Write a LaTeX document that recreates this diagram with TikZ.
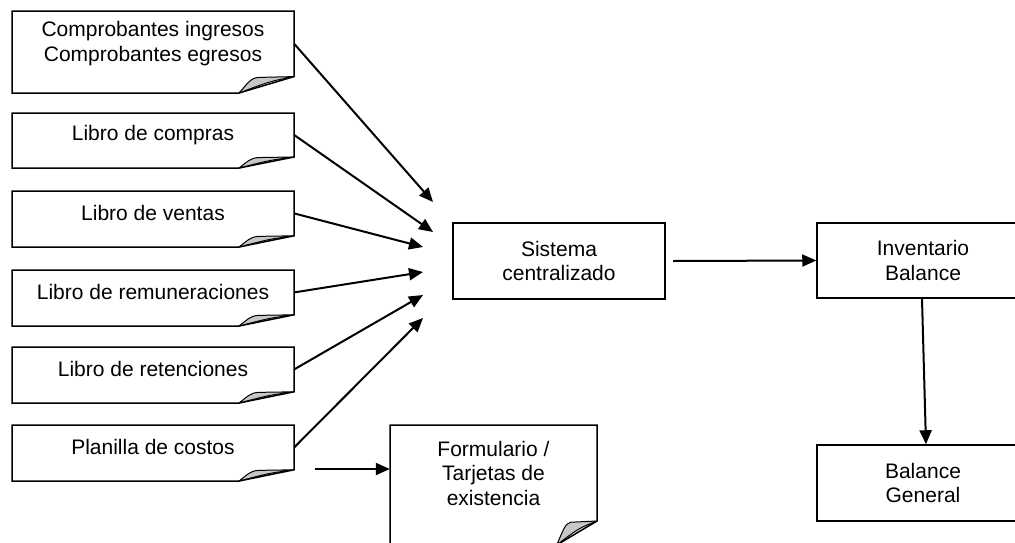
\documentclass[tikz,border=0pt]{standalone}
\usepackage{fontspec}
\setmainfont{Liberation Sans}
\usetikzlibrary{arrows.meta}
\tikzset{
  docline/.style={line width=1.5pt, line join=miter},
  foldstyle/.style={fill=black!22, draw=black, line width=1pt, line join=round},
  doctext/.style={inner sep=0pt, align=center, font=\fontsize{21}{24.5}\selectfont},
  boxnode/.style={draw, line width=1.5pt, inner sep=0pt, align=center,
    minimum width=212pt, minimum height=76pt, font=\fontsize{21}{24.5}\selectfont},
  conn/.style={line width=2pt, -{Triangle[length=14pt,width=12pt]}},
}
\newcommand{\fdoc}[6]{%
  \pgfmathsetmacro\fw{0.195*(#3-#1)}%
  \pgfmathsetmacro\fh{0.2*(#4-#2)}%
  \pgfmathsetmacro\dw{#3-#1}%
  \pgfmathsetmacro\dh{#4-#2-\fh}%
  \draw[docline] (#1,#2) -- (#3,#2) -- (#3,#4-\fh) -- (#3-\fw,#4) -- (#1,#4) -- cycle;
  \filldraw[foldstyle] (#3-\fw,#4) .. controls (#3-0.85*\fw,#4-0.55*\fh) and (#3-0.8*\fw,#4-0.9*\fh) .. (#3-0.65*\fw,#4-0.95*\fh) -- (#3,#4-\fh) .. controls (#3-0.45*\fw,#4-0.7*\fh) .. (#3-\fw,#4) -- cycle;
  \node[doctext, minimum width=\dw pt, minimum height=\dh pt] (#5) at ({(#1+#3)/2},{#2+\dh/2}) {#6};
}
\begin{document}
\begin{tikzpicture}[x=1pt,y=-1pt]
  \useasboundingbox (0,0) rectangle (1015,542);
  \fill[white] (0,0) rectangle (1015,542);

  \fdoc{12}{11}{294}{93}{d1}{Comprobantes ingresos\\Comprobantes egresos}
  \fdoc{12}{113}{294}{168}{d2}{Libro de compras}
  \fdoc{12}{191}{294}{247}{d3}{Libro de ventas}
  \fdoc{12}{270}{294}{326}{d4}{Libro de remuneraciones}
  \fdoc{12}{347}{294}{403}{d5}{Libro de retenciones}
  \fdoc{12}{425}{294}{481}{d6}{Planilla de costos}
  \fdoc{390}{425}{597}{545}{f}{Formulario /\\Tarjetas de\\existencia}

  \node[boxnode] (s) at (559,261) {Sistema\\centralizado};
  \node[boxnode, minimum height=75pt] (inv) at (923,260.5) {Inventario\\Balance};
  \node[boxnode] (bg) at (923,483) {Balance\\General};

  \coordinate (t1) at (433,202);
  \coordinate (t2) at (433,232);
  \coordinate (t3) at (423,247);
  \coordinate (t4) at (423,272);
  \coordinate (t5) at (423,295);
  \coordinate (t6) at (423,318);
  \draw[conn] (d1.east) -- (t1);
  \draw[conn] (d2.east) -- (t2);
  \draw[conn] (d3.east) -- (t3);
  \draw[conn] (d4.east) -- (t4);
  \draw[conn] (d5.east) -- (t5);
  \draw[conn] (d6.east) -- (t6);

  \coordinate (ss) at (673,261);
  \draw[conn] (ss) -- (inv.west);
  \coordinate (ps) at (315,469);
  \draw[conn] (ps) -- (ps -| f.west);
  \draw[conn] ([xshift=-1pt]inv.south) -- ([xshift=3pt]bg.north);
\end{tikzpicture}
\end{document}
